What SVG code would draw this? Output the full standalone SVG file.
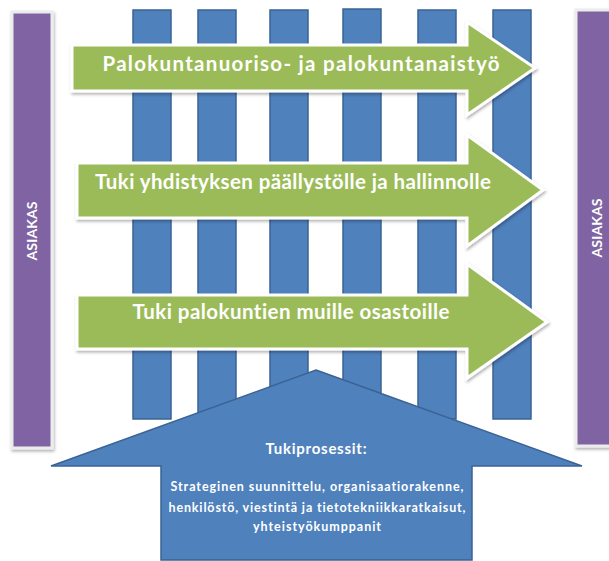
<svg xmlns="http://www.w3.org/2000/svg" width="609" height="561" viewBox="0 0 609 561">
<defs>
<style>
.bar{fill:#4F81BD;stroke:#3A6394;stroke-width:1.5}
.cust{fill:#8064A2;stroke:#ececec;stroke-width:3}
.green{fill:#9BBB59;stroke:#ffffff;stroke-width:3}
.up{fill:#4F81BD;stroke:#3A6394;stroke-width:1.5}
.t{font-family:Lato,"Open Sans","Liberation Sans",sans-serif;font-weight:bold;fill:#ffffff;font-variant-ligatures:none}
.ga{font-size:20.5px}
.cv{font-size:14px}
.hd{font-size:15px}
.bd{font-size:12.5px}
</style>
<filter id="sh" x="-10%" y="-10%" width="130%" height="130%">
<feDropShadow dx="1" dy="2" stdDeviation="1.5" flood-color="#000" flood-opacity="0.3"/>
</filter>
</defs>
<g id="asiakas-left">
<rect class="cust" x="12" y="12" width="40" height="436" filter="url(#sh)"/>
<text class="t cv" transform="translate(32,231) rotate(-90)" text-anchor="middle" y="5" textLength="59">ASIAKAS</text>
</g>
<g id="asiakas-right">
<rect class="cust" x="576" y="10" width="40" height="436" filter="url(#sh)"/>
<text class="t cv" transform="translate(597,228) rotate(-90)" text-anchor="middle" y="5" textLength="59">ASIAKAS</text>
</g>
<g id="bars">
<rect class="bar" x="133" y="10" width="38" height="409"/>
<rect class="bar" x="198" y="10" width="38" height="409"/>
<rect class="bar" x="270" y="10" width="38" height="409"/>
<rect class="bar" x="343" y="9" width="38" height="410"/>
<rect class="bar" x="418" y="10" width="38" height="409"/>
<rect class="bar" x="493" y="10" width="38" height="409"/>
</g>
<g id="arrow1">
<polygon class="green" filter="url(#sh)" points="72,45 467,45 467,22 535,68 467,115 467,91 72,91"/>
<text class="t ga" x="301" y="71" text-anchor="middle" textLength="397">Palokuntanuoriso- ja palokuntanaistyö</text>
</g>
<g id="arrow2">
<polygon class="green" filter="url(#sh)" points="77,163 467,163 467,135 543,190 467,246 467,218 77,218"/>
<text class="t ga" x="293" y="189" text-anchor="middle" textLength="396">Tuki yhdistyksen päällystölle ja hallinnolle</text>
</g>
<g id="arrow3">
<polygon class="green" filter="url(#sh)" points="77,295 467,295 467,264 547,322 467,378 467,349 77,349"/>
<text class="t ga" x="291" y="319" text-anchor="middle" textLength="317">Tuki palokuntien muille osastoille</text>
</g>
<g id="tukiprosessit">
<polygon class="up" points="316,370 582,466 472,466 472,560 161,560 161,466 51,466"/>
<text class="t hd" x="316" y="454" text-anchor="middle" textLength="101">Tukiprosessit:</text>
<text class="t bd" x="317" y="491" text-anchor="middle" textLength="293">Strateginen suunnittelu, organisaatiorakenne,</text>
<text class="t bd" x="317" y="512" text-anchor="middle" textLength="297">henkilöstö, viestintä ja tietotekniikkaratkaisut,</text>
<text class="t bd" x="317" y="531" text-anchor="middle" textLength="128">yhteistyökumppanit</text>
</g>
<g id="connectors"></g>
</svg>
